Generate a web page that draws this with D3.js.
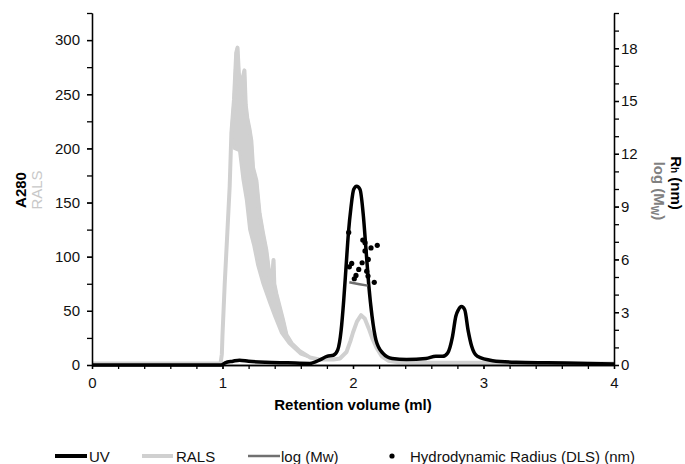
<!DOCTYPE html>
<html>
<head>
<meta charset="utf-8">
<script src="https://cdn.jsdelivr.net/npm/d3@7"></script>
<style>
  html, body { margin: 0; padding: 0; background: #fff; }
  svg text { font-family: Arial, "Liberation Sans", sans-serif; }
</style>
</head>
<body>
<svg id="chart" width="685" height="464"></svg>
<script>
// UV trace (A280)
const uvX = [0, 0.99, 1.02, 1.08, 1.13, 1.2, 1.33, 1.5, 1.67, 1.75, 1.8, 1.85, 1.883, 1.909, 1.929, 1.947, 1.965, 1.985, 2.005, 2.028, 2.054, 2.08, 2.1, 2.12, 2.146, 2.176, 2.228, 2.3, 2.41, 2.56, 2.635, 2.686, 2.725, 2.762, 2.788, 2.808, 2.831, 2.856, 2.882, 2.91, 2.953, 3.07, 3.25, 3.49, 3.8, 4];
const uvY = [0, 0, 2, 3.5, 4.5, 3.5, 2.5, 2, 1.5, 5, 8, 9, 14, 32, 60, 91, 122, 146, 162, 165, 162, 137, 106, 75, 45, 23, 11, 6, 5, 6, 8, 8, 11, 26, 45, 51, 54, 51, 32, 17, 8, 4, 2.5, 2, 1.5, 1];

// RALS trace (upper edge of the noisy signal)
const ralsX = [0, 0.5, 0.985, 0.995, 1.0, 1.017, 1.037, 1.055, 1.068, 1.088, 1.105, 1.115, 1.125, 1.14, 1.155, 1.168, 1.178, 1.19, 1.208, 1.221, 1.234, 1.26, 1.284, 1.31, 1.336, 1.361, 1.38, 1.391, 1.397, 1.412, 1.463, 1.49, 1.53, 1.59, 1.67, 1.75, 1.85, 1.9, 1.95, 1.98, 2.0, 2.03, 2.062, 2.09, 2.12, 2.15, 2.18, 2.22, 2.27, 2.35, 2.6, 3.0, 3.5, 4.0];
const ralsY = [1.5, 1.5, 1.5, 10, 28, 75, 122, 165, 214, 245, 288, 293, 270, 250, 265, 272, 240, 228, 217, 207, 182, 170, 140, 122, 106, 82, 80, 97, 75, 66, 42, 28, 20, 13, 7, 5, 5, 6, 12, 22, 30, 40, 46, 43, 34, 24, 16, 8, 4, 2.5, 2, 2, 1.5, 1.5];

// RALS lower edge of the noise band
const ralsLowX = [1.068, 1.09, 1.13, 1.157, 1.183, 1.208, 1.24, 1.27, 1.31, 1.36, 1.4, 1.45, 1.51, 1.6, 1.67];
const ralsLowY = [214, 200, 198, 171, 152, 125, 110, 92, 75, 58, 45, 30, 20, 10, 7];

// log (Mw) on the right axis
const mwX = [1.972, 2.0, 2.05, 2.113];
const mwY = [4.7, 4.66, 4.59, 4.51];

// Hydrodynamic radius (DLS), nm
const rhX = [1.967, 2.075, 2.092, 2.138, 2.186, 2.092, 2.117, 1.99, 2.07, 2.044, 2.105, 2.023, 2.01, 2.115, 2.163, 1.972];
const rhY = [7.53, 7.1, 6.95, 6.65, 6.8, 6.48, 6.0, 5.77, 5.81, 5.43, 5.33, 5.09, 4.9, 5.05, 4.7, 5.58];

const xTicks = [0, 1, 2, 3, 4];
const leftTicks = [0, 50, 100, 150, 200, 250, 300];
const rightTicks = [0, 3, 6, 9, 12, 15, 18];

const svg = d3.select('#chart');

const x = d3.scaleLinear().domain([0, 4]).range([92, 614]);
const yL = d3.scaleLinear().domain([0, 325]).range([365, 13]);
const yR = d3.scaleLinear().domain([0, 20]).range([365, 13]);

const zip = (xs, ys) => xs.map((v, i) => [v, ys[i]]);

// RALS
const ralsLine = d3.line().x(d => x(d[0])).y(d => yL(d[1]));
const ralsPts = zip(ralsX, ralsY);
const bandTop = ralsPts.filter(d => d[0] >= 1.068 && d[0] <= 1.67);
const bandPts = bandTop.concat(zip(ralsLowX, ralsLowY).reverse());

svg.append('path')
    .attr('d', ralsLine(bandPts) + 'Z')
    .attr('fill', '#d0d0d0')
    .attr('stroke', '#d0d0d0')
    .attr('stroke-width', 3)
    .attr('stroke-linejoin', 'round');

svg.append('path')
    .attr('d', ralsLine(ralsPts))
    .attr('fill', 'none')
    .attr('stroke', '#d0d0d0')
    .attr('stroke-width', 4)
    .attr('stroke-linejoin', 'round');

// UV
svg.append('path')
    .attr('d', d3.line().curve(d3.curveMonotoneX).x(d => x(d[0])).y(d => yL(d[1]))(zip(uvX, uvY)))
    .attr('fill', 'none')
    .attr('stroke', '#000')
    .attr('stroke-width', 3.5)
    .attr('stroke-linejoin', 'round');

// log (Mw)
svg.append('path')
    .attr('d', d3.line().x(d => x(d[0])).y(d => yR(d[1]))(zip(mwX, mwY)))
    .attr('fill', 'none')
    .attr('stroke', '#707070')
    .attr('stroke-width', 2.5);

// Rh dots
svg.append('g').selectAll('circle')
    .data(zip(rhX, rhY))
    .enter().append('circle')
    .attr('cx', d => x(d[0]))
    .attr('cy', d => yR(d[1]))
    .attr('r', 2.6)
    .attr('fill', '#000');

// axes
function styleAxis(g) {
    g.selectAll('path, line').attr('stroke', '#000').attr('stroke-width', 1.3);
    g.selectAll('text').attr('font-size', 15).attr('fill', '#111')
        .attr('font-family', 'Arial, "Liberation Sans", sans-serif');
}

svg.append('g')
    .attr('transform', 'translate(0,365)')
    .call(d3.axisBottom(x).tickValues(d3.range(0, 4.01, 0.2)).tickFormat('').tickSize(4).tickSizeOuter(0))
    .call(styleAxis);
svg.append('g')
    .attr('transform', 'translate(0,365)')
    .call(d3.axisBottom(x).tickValues(xTicks).tickFormat(d3.format('d')).tickSize(4).tickSizeOuter(0).tickPadding(8))
    .call(styleAxis);

svg.append('g')
    .attr('transform', 'translate(92,0)')
    .call(d3.axisLeft(yL).tickValues(d3.range(0, 326, 25)).tickFormat('').tickSize(5).tickSizeOuter(0))
    .call(styleAxis);
svg.append('g')
    .attr('transform', 'translate(92,0)')
    .call(d3.axisLeft(yL).tickValues(leftTicks).tickSize(5).tickSizeOuter(0).tickPadding(7))
    .call(styleAxis);

svg.append('g')
    .attr('transform', 'translate(614,0)')
    .call(d3.axisRight(yR).tickValues(d3.range(0, 21, 1)).tickFormat('').tickSize(5).tickSizeOuter(0))
    .call(styleAxis);
svg.append('g')
    .attr('transform', 'translate(614,0)')
    .call(d3.axisRight(yR).tickValues(rightTicks).tickSize(5).tickSizeOuter(0).tickPadding(2))
    .call(styleAxis);

// axis titles
svg.append('text')
    .attr('x', 353).attr('y', 410)
    .attr('text-anchor', 'middle')
    .attr('font-size', 15).attr('font-weight', 'bold')
    .text('Retention volume (ml)');

svg.append('text')
    .attr('transform', 'translate(26,190) rotate(-90)')
    .attr('text-anchor', 'middle')
    .attr('font-size', 15).attr('font-weight', 'bold')
    .text('A280');
svg.append('text')
    .attr('transform', 'translate(42,190) rotate(-90)')
    .attr('text-anchor', 'middle')
    .attr('font-size', 15).attr('fill', '#c8c8c8')
    .text('RALS');

const rhTitle = svg.append('text')
    .attr('transform', 'translate(671,183) rotate(90)')
    .attr('text-anchor', 'middle')
    .attr('font-size', 15).attr('font-weight', 'bold');
rhTitle.append('tspan').text('R');
rhTitle.append('tspan').attr('font-size', 10).text('h');
rhTitle.append('tspan').text(' (nm)');

const mwTitle = svg.append('text')
    .attr('transform', 'translate(654,191) rotate(90)')
    .attr('text-anchor', 'middle')
    .attr('font-size', 15).attr('font-weight', 'bold').attr('fill', '#808080');
mwTitle.append('tspan').text('log (M');
mwTitle.append('tspan').attr('font-size', 10).attr('dy', 3).text('W');
mwTitle.append('tspan').attr('dy', -3).text(')');

// legend
const legY = 456;
const legend = svg.append('g');
[
    { x1: 55, x2: 87, color: '#000', w: 4, label: 'UV', tx: 89 },
    { x1: 142, x2: 173, color: '#d0d0d0', w: 4, label: 'RALS', tx: 176 },
    { x1: 248, x2: 280, color: '#707070', w: 2.5, label: 'log (Mw)', tx: 281 }
].forEach(d => {
    legend.append('line')
        .attr('x1', d.x1).attr('x2', d.x2)
        .attr('y1', legY).attr('y2', legY)
        .attr('stroke', d.color).attr('stroke-width', d.w);
    legend.append('text')
        .attr('x', d.tx).attr('y', legY + 5.5)
        .attr('font-size', 15).attr('fill', '#111')
        .text(d.label);
});
legend.append('circle').attr('cx', 392).attr('cy', legY).attr('r', 2.6).attr('fill', '#000');
legend.append('text')
    .attr('x', 410).attr('y', legY + 5.5)
    .attr('font-size', 15).attr('fill', '#111')
    .text('Hydrodynamic Radius (DLS) (nm)');
</script>
</body>
</html>
